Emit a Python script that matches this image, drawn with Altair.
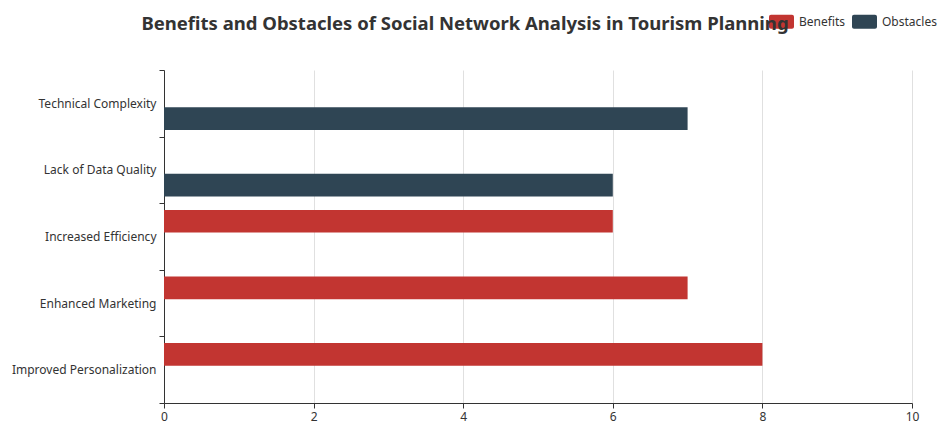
import altair as alt
import pandas as pd

# Categories listed top to bottom as drawn
categories = [
    "Technical Complexity",
    "Lack of Data Quality",
    "Increased Efficiency",
    "Enhanced Marketing",
    "Improved Personalization",
]
series_names = ["Benefits", "Obstacles"]
benefits = [None, None, 6, 7, 8]
obstacles = [7, 6, None, None, None]
colors = ["#c23531", "#2f4554"]
x_ticks = [0, 2, 4, 6, 8, 10]

rows = []
for cat, b, o in zip(categories, benefits, obstacles):
    if b is not None:
        rows.append({"Category": cat, "Series": "Benefits", "Value": b})
    if o is not None:
        rows.append({"Category": cat, "Series": "Obstacles", "Value": o})
df = pd.DataFrame(rows)

FONT = "Noto Sans"
rounded = ("M-0.84,-0.56 H0.84 A0.16,0.16 0 0 1 1,-0.4 V0.4 A0.16,0.16 0 0 1 0.84,0.56 "
           "H-0.84 A0.16,0.16 0 0 1 -1,0.4 V-0.4 A0.16,0.16 0 0 1 -0.84,-0.56 Z")

chart = alt.Chart(df).mark_bar().encode(
    x=alt.X("Value:Q",
            scale=alt.Scale(domain=[0, 10], nice=False),
            axis=alt.Axis(values=x_ticks, title=None, grid=True, gridColor="#e0e0e0",
                          domainColor="#333333", tickColor="#333333", tickSize=5,
                          labelPadding=3, labelColor="#333333", labelFontSize=12,
                          labelFont=FONT, labelFlush=False)),
    y=alt.Y("Category:N", sort=categories,
            scale=alt.Scale(paddingInner=0, paddingOuter=0),
            axis=alt.Axis(title=None, grid=False, tickBand="extent",
                          domainColor="#333333", tickColor="#333333", tickSize=5,
                          labelPadding=3, labelColor="#333333", labelFontSize=12,
                          labelFont=FONT)),
    yOffset=alt.YOffset("Series:N",
                        scale=alt.Scale(domain=series_names, paddingInner=0.26,
                                        paddingOuter=0.22)),
    color=alt.Color("Series:N",
                    scale=alt.Scale(domain=series_names, range=colors),
                    legend=alt.Legend(title=None, orient="none", direction="horizontal",
                                      legendX=605, legendY=-61, symbolType=rounded,
                                      symbolSize=625, symbolStrokeWidth=0,
                                      labelFont=FONT, labelFontSize=12,
                                      labelColor="#333333", labelOffset=5,
                                      columnPadding=6, padding=0)),
).properties(
    width=748,
    height=333,
    title=alt.TitleParams(
        "Benefits and Obstacles of Social Network Analysis in Tourism Planning",
        font=FONT, fontSize=18.5, fontWeight="bold", color="#333333",
        anchor="middle", dx=-73, offset=0, dy=24),
    autosize=alt.AutoSizeParams(type="none"),
    padding={"left": 156, "top": 62, "right": 28, "bottom": 20},
).configure_view(stroke=None)

chart.save("out.html", embed_options={"renderer": "svg", "actions": False})
